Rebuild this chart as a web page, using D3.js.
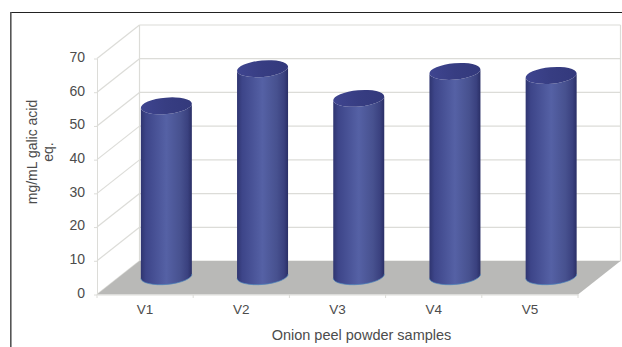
<!DOCTYPE html>
<html>
<head>
<meta charset="utf-8">
<script src="https://cdn.jsdelivr.net/npm/d3@7/dist/d3.min.js"></script>
<style>
html,body{margin:0;padding:0;background:#fff;}
svg{display:block;}
text{font-family:"Liberation Sans",Arial,sans-serif;fill:#4c4c4c;}
</style>
</head>
<body>
<svg id="chart" width="622" height="347"></svg>
<script>
// Sample groups and their measured values
const categories = ["V1","V2","V3","V4","V5"];
const values = [51, 62, 53.2, 61.2, 60];
const yTicks = [0,10,20,30,40,50,60,70];

const wallColor = "#dcdcd8";
const floorColor = "#b9b9b7";
const depth = {dx: 42.5, dy: -33.5};      // shift from the front plane to the back wall
const rx = 25.6, ry = 8.2, tilt = -5;     // cylinder cap ellipse

const svg = d3.select("#chart");

const x = d3.scaleBand().domain(categories).range([97, 578]);
const y = d3.scaleLinear().domain([0,70]).range([294.5, 58.5]);

// Outer frame: top and left rules only
svg.append("line").attr("x1",10).attr("x2",622).attr("y1",12.5).attr("y2",12.5)
  .attr("stroke","#222").attr("stroke-width",1.2);
svg.append("line").attr("x1",10.8).attr("x2",10.8).attr("y1",12).attr("y2",347)
  .attr("stroke","#555").attr("stroke-width",1.6);

// Back wall gridlines and side-wall diagonals
const walls = svg.append("g").attr("stroke",wallColor).attr("stroke-width",1.2).attr("fill","none");
walls.selectAll("line.back").data(yTicks).join("line").attr("class","back")
  .attr("x1",x.range()[0]+depth.dx).attr("x2",x.range()[1]+depth.dx)
  .attr("y1",d=>y(d)+depth.dy).attr("y2",d=>y(d)+depth.dy);
walls.selectAll("line.side").data(yTicks).join("line").attr("class","side")
  .attr("x1",x.range()[0]).attr("x2",x.range()[0]+depth.dx)
  .attr("y1",d=>y(d)).attr("y2",d=>y(d)+depth.dy);
walls.append("line")
  .attr("x1",x.range()[0]+depth.dx).attr("x2",x.range()[0]+depth.dx)
  .attr("y1",y(70)+depth.dy).attr("y2",y(0)+depth.dy);
walls.append("line")
  .attr("x1",x.range()[1]+depth.dx).attr("x2",x.range()[1]+depth.dx)
  .attr("y1",y(70)+depth.dy).attr("y2",y(0)+depth.dy);

// Floor
const [x0,x1] = x.range();
svg.append("path")
  .attr("d",`M${x0},${y(0)}L${x1},${y(0)}L${x1+depth.dx},${y(0)+depth.dy}L${x0+depth.dx},${y(0)+depth.dy}Z`)
  .attr("fill",floorColor);

// Value axis
const yAxis = svg.append("g").attr("transform",`translate(${x0},0)`)
  .call(d3.axisLeft(y).tickValues(yTicks).tickSize(3).tickPadding(9));
yAxis.selectAll("line,path").attr("stroke",wallColor);
yAxis.select(".domain").attr("d",`M0.5,${y(70)}V${y(0)}`);
yAxis.selectAll("text").attr("font-size",14).attr("font-family",'"Liberation Sans",Arial,sans-serif').attr("fill","#4c4c4c").attr("dy","0.2em");

// Category axis with labels centred in each band and ticks at band edges
const xAxis = svg.append("g").attr("transform",`translate(0,${y(0)})`)
  .call(d3.axisBottom(x).tickSize(0).tickPadding(10));
xAxis.select(".domain").attr("stroke",wallColor);
xAxis.selectAll("text").attr("font-size",13.5).attr("font-family",'"Liberation Sans",Arial,sans-serif').attr("fill","#4c4c4c");
const edges = categories.map(c=>x(c)).concat([x1]);
xAxis.selectAll("line.edge").data(edges).join("line").attr("class","edge")
  .attr("x1",d=>d).attr("x2",d=>d).attr("y1",0).attr("y2",3.5).attr("stroke",wallColor);

// Cylinder shading
const defs = svg.append("defs");
const side = defs.append("linearGradient").attr("id","sideFill");
[[0,"#2f3570"],[0.1,"#3d4589"],[0.5,"#5561a5"],[0.78,"#47518f"],[0.92,"#3a417f"],[1,"#2a2f66"]]
  .forEach(([o,c])=>side.append("stop").attr("offset",o).attr("stop-color",c));
const cap = defs.append("linearGradient").attr("id","capFill");
[[0,"#3f4590"],[0.5,"#373d82"],[1,"#33397c"]]
  .forEach(([o,c])=>cap.append("stop").attr("offset",o).attr("stop-color",c));

// Cylinders, standing about midway into the floor depth
const baseY = y(0) + depth.dy/2 - 1.5;
const cos = Math.cos(tilt*Math.PI/180), sin = Math.sin(tilt*Math.PI/180);
const bars = svg.append("g").selectAll("g").data(categories.map((c,i)=>({c,v:values[i]}))).join("g")
  .attr("transform",d=>`translate(${x(d.c)+x.bandwidth()/2+depth.dx/2},0)`);
const topY = d => baseY - (y(0)-y(d.v)) + 1.5;
const lx = rx*cos, ly = rx*sin;
bars.append("path")
  .attr("fill","url(#sideFill)")
  .attr("d",d=>`M${-lx},${topY(d)-ly}L${-lx},${baseY-ly}`+
    `A${rx},${ry},${tilt},0,0,${lx},${baseY+ly}L${lx},${topY(d)+ly}`+
    `A${rx},${ry},${tilt},0,1,${-lx},${topY(d)-ly}Z`);
bars.append("path")
  .attr("fill","none").attr("stroke","#4d86bd").attr("stroke-width",0.7)
  .attr("d",`M${-lx},${baseY-ly}A${rx},${ry},${tilt},0,0,${lx},${baseY+ly}`);
bars.append("ellipse")
  .attr("fill","url(#capFill)")
  .attr("rx",rx).attr("ry",ry)
  .attr("transform",d=>`translate(0,${topY(d)}) rotate(${tilt})`);

// Axis titles
svg.append("text").attr("x",361.5).attr("y",340).attr("text-anchor","middle")
  .attr("font-size",14.5).text("Onion peel powder samples");
const yTitle = svg.append("text").attr("transform","translate(0,152) rotate(-90)")
  .attr("text-anchor","middle").attr("font-size",14);
yTitle.append("tspan").attr("x",0).attr("y",36.5).text("mg/mL galic acid");
yTitle.append("tspan").attr("x",0).attr("y",52.5).text("eq.");
</script>
</body>
</html>
